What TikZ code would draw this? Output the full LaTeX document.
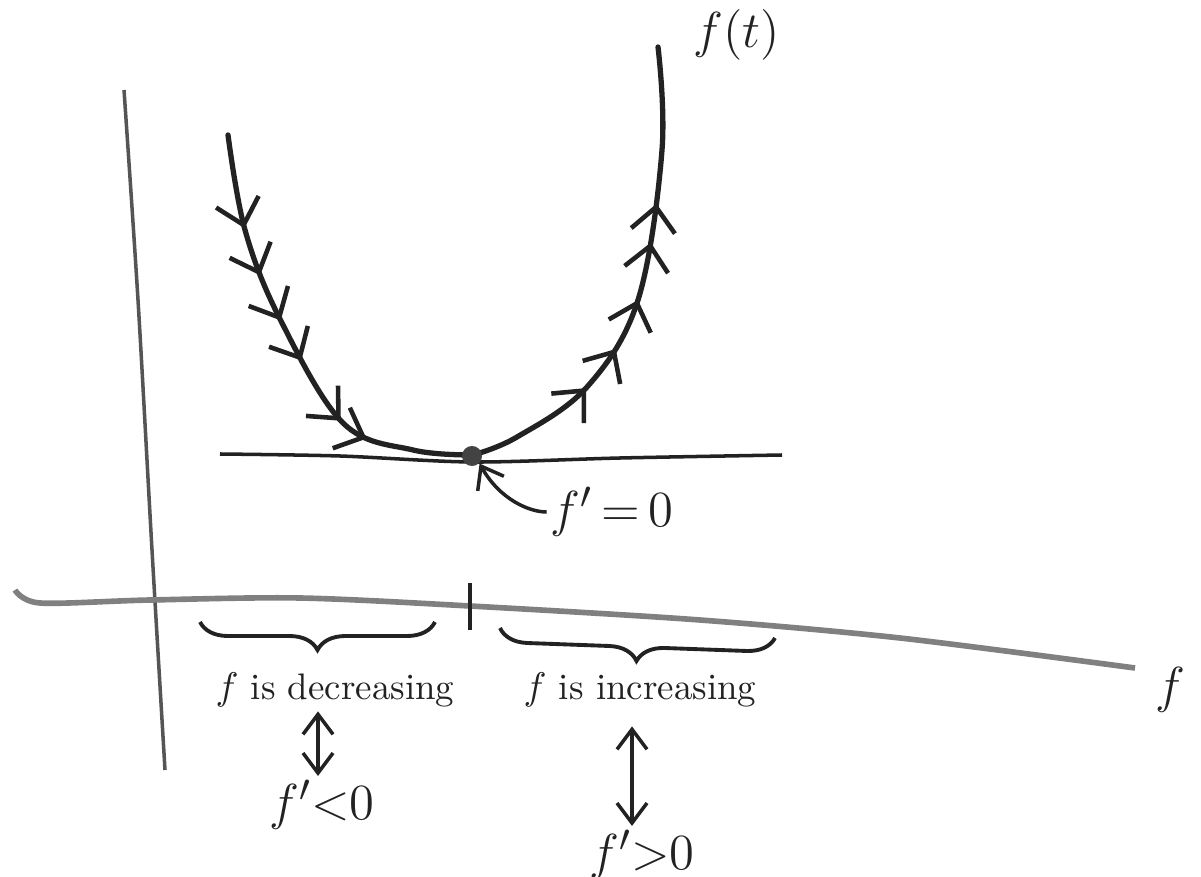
\documentclass[tikz,border=0pt]{standalone}
\usetikzlibrary{arrows.meta,decorations.markings,decorations.pathreplacing}
\definecolor{ink}{HTML}{222222}
\definecolor{axisgray}{HTML}{808080}
\definecolor{vaxis}{HTML}{555555}
\tikzset{
  barb/.tip={Straight Barb[length=2.4mm,width=4.4mm,line width=1.3pt]},
  smallbarb/.tip={Straight Barb[length=2mm,width=3mm]},
  curveline/.style={draw=ink,line width=1.5pt,line cap=round},
  lbl/.style={text=ink,inner sep=1pt,font=\fontsize{10.5}{12}\selectfont},
  mlbl/.style={text=ink,inner sep=1pt,font=\fontsize{15}{17}\selectfont},
  dblarrow/.style={draw=ink,line width=1pt,smallbarb-smallbarb},
  bracestyle/.style={draw=ink,line width=1.1pt,decorate,decoration={brace,mirror,amplitude=0.28cm}}
}
\begin{document}
\begin{tikzpicture}[x=0.01cm,y=-0.01cm]
\useasboundingbox (0,0) rectangle (1201,877);
% axes
\draw[vaxis,line width=1pt] plot[smooth] coordinates {(124,90) (138,300) (152,550) (165,770)};
\draw[axisgray,line width=1.6pt] plot[smooth] coordinates {(15,590) (40,603) (150,600) (300,598) (470,606) (700,620) (900,638) (1135,668)};
\coordinate (tickTop) at (470,583);
\coordinate (tickBot) at (470,630);
\draw[ink,line width=1.2pt] (tickTop) -- (tickBot);
% tangent line
\draw[ink,line width=1pt] plot[smooth] coordinates {(220,454) (340,456) (473,462) (620,458) (782,455)};
% curve left
\draw[curveline,postaction={decorate},decoration={markings,
  mark=at position 0.21 with {\arrow{barb}},
  mark=at position 0.32 with {\arrow{barb}},
  mark=at position 0.43 with {\arrow{barb}},
  mark=at position 0.53 with {\arrow{barb}},
  mark=at position 0.69 with {\arrow{barb}},
  mark=at position 0.76 with {\arrow{barb}}}]
  plot[smooth,tension=0.6] coordinates {(228,135) (245,230) (280,319) (343,423) (413,450) (473,455)};
% curve right
\draw[curveline,postaction={decorate},decoration={markings,
  mark=at position 0.27 with {\arrow{barb}},
  mark=at position 0.37 with {\arrow{barb}},
  mark=at position 0.48 with {\arrow{barb}},
  mark=at position 0.60 with {\arrow{barb}},
  mark=at position 0.68 with {\arrow{barb}}}]
  plot[smooth,tension=0.6] coordinates {(473,455) (517,437) (587,387) (638,300) (662,150) (658,47)};
% minimum dot
\node[circle,fill=ink!85,inner sep=0pt,minimum size=0.2cm] (dot) at (472,456) {};
% labels
\node[mlbl] (ft) at (737,35) {$f(t)$};
\node[mlbl] (fzero) at (612,512) {$f'\,{=}\,0$};
\draw[ink,line width=1pt,-smallbarb] (fzero.west) .. controls (530,512) and (500,500) .. (dot.south east);
\node[mlbl] (fright) at (1170,690) {$f$};
% braces
\coordinate (lb1) at (200,622);
\coordinate (lb2) at (435,622);
\coordinate (rb1) at (500,628);
\coordinate (rb2) at (775,638);
\draw[bracestyle] (lb1) -- (lb2);
\draw[bracestyle] (rb1) -- (rb2);
% texts
\node[lbl] (dec) at (335,690) {$f$ is decreasing};
\node[lbl] (inc) at (640,690) {$f$ is increasing};
\node[mlbl] (neg) at (322,805) {$f'{<}0$};
\node[mlbl] (pos) at (642,855) {$f'{>}0$};
\draw[dblarrow] (dec.south -| 318,0) -- (neg.north -| 318,0);
\draw[dblarrow,shorten <=0.15cm] (inc.south -| 632,0) -- (pos.north -| 632,0);
\end{tikzpicture}
\end{document}
